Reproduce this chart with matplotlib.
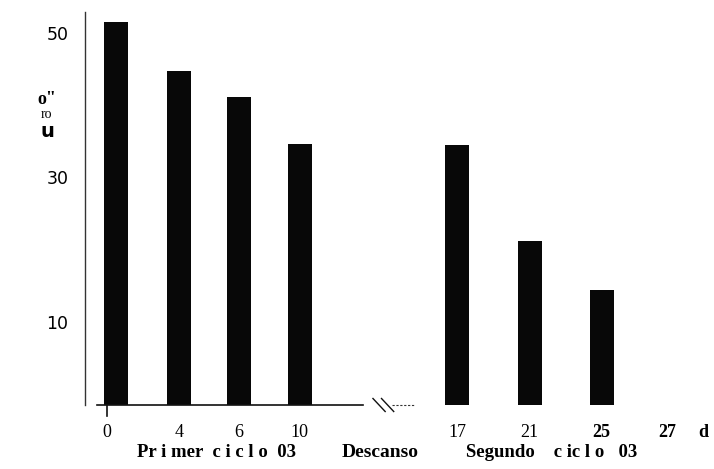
import numpy as np
import matplotlib.pyplot as plt

# dias de tratamiento y valores
dias = ['0', '4', '6', '10', '17', '21', '25', '27', 'd']
valores = [51.5, 44.7, 41.2, 34.6, 34.5, 21.2, 14.4]
yticks = [50, 30, 10]

# posiciones en el eje (escala no lineal, como en el original)
pos = np.array([0, 1.18, 2.16, 3.16, 5.74, 6.93, 8.11, 9.18, 9.77])
base = -1.5

fig = plt.figure(figsize=(7.14, 4.69), dpi=100)
W, H = 714, 469
ax = fig.add_axes([85 / W, (H - 405) / H, (W - 85) / W, (405 - 12) / H])
ax.set_xlim(-0.36, 9.95)
ax.set_ylim(base, 52.9)

xb = pos[:len(valores)].copy()
xb[0] += 0.15
heights = np.array(valores) - base
ax.bar(xb, heights, bottom=base, width=0.39, color='#080808')

for s in ['top', 'right', 'bottom']:
    ax.spines[s].set_visible(False)
ax.spines['left'].set_linewidth(1.0)
ax.spines['left'].set_color('#333333')

ax.set_yticks(yticks)
ax.set_yticklabels([str(t) for t in yticks], fontsize=12.5, family='DejaVu Sans')
ax.tick_params(axis='y', length=0, pad=12)
ax.set_xticks([])

# linea base y corte
ax.plot([-0.16, 4.2], [base, base], color='#111111', lw=1.2, clip_on=False)
ax.plot([4.68, 5.05], [base, base], color='#333333', lw=0.8, ls=(0, (2, 1.5)), clip_on=False)
ax.plot([4.36, 4.56], [base + 0.9, base - 0.9], color='#111111', lw=1.0, clip_on=False)
ax.plot([4.5, 4.7], [base + 0.9, base - 0.9], color='#111111', lw=1.0, clip_on=False)
ax.plot([0.0, 0.0], [base, base - 1.5], color='#111111', lw=1.2, clip_on=False)

# etiquetas de los dias
for i, (p, d) in enumerate(zip(pos, dias)):
    bold = i >= 6
    ax.text(p, -5.3, d, ha='center', va='center', fontsize=13,
            family='Liberation Serif', fontweight='bold' if bold else 'normal')

fig.text(217 / W, 1 - 452 / H, 'Pr i mer  c i c l o  03', ha='center', va='center',
         fontsize=13.5, family='Liberation Serif', fontweight='bold')
fig.text(380 / W, 1 - 452 / H, 'Descanso', ha='center', va='center',
         fontsize=14, family='Liberation Serif', fontweight='bold')
fig.text(552 / W, 1 - 452 / H, 'Segundo    c ic l o   03', ha='center', va='center',
         fontsize=13.5, family='Liberation Serif', fontweight='bold')

# etiqueta del eje y (ilegible en el original)
fig.text(47 / W, 1 - 99 / H, 'o"', ha='center', va='center', fontsize=13,
         family='Liberation Serif', fontweight='bold')
fig.text(46 / W, 1 - 115 / H, 'ro', ha='center', va='center', fontsize=10,
         family='Liberation Serif')
fig.text(47 / W, 1 - 131 / H, 'u', ha='center', va='center', fontsize=14,
         family='DejaVu Sans', fontweight='bold')

fig.savefig('out.png', dpi=100)
